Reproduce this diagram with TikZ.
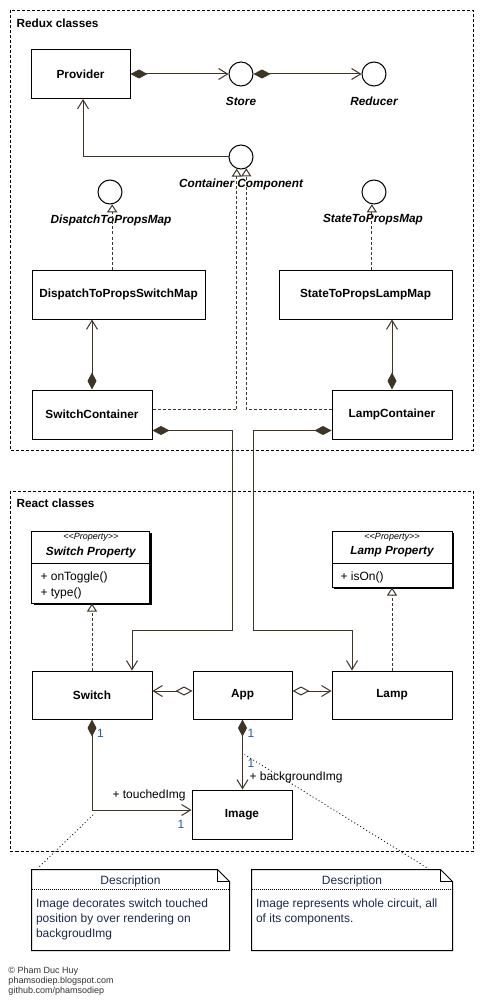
\documentclass[tikz,border=0pt]{standalone}
\usepackage{fontspec}
\setmainfont{Liberation Sans}
\usetikzlibrary{arrows.meta,positioning,shadows}

\definecolor{linkcol}{HTML}{3F3526}
\definecolor{multcol}{HTML}{2A5A9A}
\definecolor{notecol}{HTML}{1C2A4A}

\begin{document}
\begin{tikzpicture}[x=1pt, y=-1pt, line width=1pt,
    cls/.style={draw, fill=white, inner sep=0pt, minimum height=49pt,
      font=\fontsize{11.8}{14}\selectfont\bfseries},
    iface/.style={draw, circle, fill=white, inner sep=0pt, minimum size=24pt},
    ilabel/.style={inner sep=0pt, font=\fontsize{11.8}{14}\selectfont\bfseries\itshape},
    pkglabel/.style={anchor=west, inner sep=0pt, font=\fontsize{11.8}{14}\selectfont\bfseries},
    stereo/.style={inner sep=0pt, font=\fontsize{9}{10}\selectfont\itshape},
    prop/.style={draw, fill=white, inner sep=0pt, minimum width=118pt,
      drop shadow={shadow xshift=2pt, shadow yshift=-2pt, fill=black, opacity=1}},
    txt/.style={inner sep=0pt, font=\fontsize{12}{16}\selectfont},
    mult/.style={inner sep=0pt, text=multcol, font=\fontsize{12}{14}\selectfont},
    note/.style={inner sep=0pt, minimum height=80pt},
    notetxt/.style={inner sep=0pt, text=notecol, font=\fontsize{12}{14.7}\selectfont},
    foot/.style={anchor=west, inner sep=0pt, text=black!80, font=\fontsize{9}{10}\selectfont},
    pkg/.style={dash pattern=on 3pt off 2pt},
    comp/.style={draw=linkcol, {Diamond[length=17pt,width=9pt,fill=linkcol]}-{Straight Barb[length=9pt,width=11pt]}},
    aggr/.style={draw=linkcol, {Diamond[length=17pt,width=9pt,fill=white]}-{Straight Barb[length=9pt,width=11pt]}},
    nav/.style={draw=linkcol, -{Straight Barb[length=9pt,width=11pt]}},
    real/.style={draw=linkcol, dash pattern=on 3pt off 2pt, -{Triangle[length=8pt,width=10pt,fill=white]}},
    attach/.style={line width=0.8pt, dash pattern=on 1pt off 2.5pt},
  ]
    \fill[white] (0, 0) rectangle (483, 1000);
    \useasboundingbox (0, 0) rectangle (483, 1000);

    % Redux classes
    \draw[pkg] (10.5, 10.5) rectangle (473, 450);
    \node[pkglabel] at (16, 23) (reduxlbl) {Redux classes};

    \node[cls, minimum width=99pt] at (80.5, 74) (prov) {Provider};
    \node[iface] at (241, 74) (store) {};
    \node[ilabel] at (241, 101) (storelbl) {Store};
    \node[iface] at (374, 74) (red) {};
    \node[ilabel] at (374, 101) (redlbl) {Reducer};
    \node[iface] at (241, 157) (cc) {};
    \node[ilabel] at (241, 184) (cclbl) {Container Component};
    \node[iface] at (110, 192) (dmap) {};
    \node[ilabel] at (111, 220) (dmaplbl) {DispatchToPropsMap};
    \node[iface] at (374, 192) (smap) {};
    \node[ilabel] at (373, 220) (smaplbl) {StateToPropsMap};
    \node[cls, minimum width=173pt] at (118.5, 294.5) (dsm) {DispatchToPropsSwitchMap};
    \node[cls, minimum width=173pt] at (365.5, 294.5) (slm) {StateToPropsLampMap};
    \node[cls, minimum width=120pt] at (92, 414.5) (sc) {SwitchContainer};
    \node[cls, minimum width=120pt] at (392, 414.5) (lc) {LampContainer};

    \draw[comp] (prov.east) -- (store.west);
    \draw[comp] (store.east) -- (red.west);
    \draw[nav] (cc.west) -| ([xshift=2.5pt]prov.south);
    \draw[real] (dmap.-80 |- dsm.north) -- (dmap.-80);
    \draw[real] (smap.-100 |- slm.north) -- (smap.-100);
    \draw[comp] (sc.north) -- (sc.north |- dsm.south);
    \draw[comp] (lc.north) -- (lc.north |- slm.south);
    \draw[real] ([yshift=5pt]sc.east) -| (cc.-110);
    \draw[real] ([yshift=5pt]lc.west) -| (cc.-65);

    % React classes
    \draw[pkg] (10.5, 491) rectangle (473, 851);
    \node[pkglabel] at (16, 503) (reactlbl) {React classes};

    \node[prop, minimum height=32pt] at (90.8, 547) (swph) {};
    \node[prop, minimum height=40pt] at (90.8, 583) (swpb) {};
    \node[stereo] at (90.8, 537) (swpst) {<{}<Property>{}>};
    \node[ilabel] at (90.8, 552) (swpname) {Switch Property};
    \node[txt, anchor=north west, align=left] at (40, 571.5) (swpops) {+ onToggle()\\+ type()};

    \node[prop, minimum width=120pt, minimum height=32pt] at (392, 547) (lmph) {};
    \node[prop, minimum width=120pt, minimum height=24pt] at (392, 575) (lmpb) {};
    \node[stereo] at (392, 537) (lmpst) {<{}<Property>{}>};
    \node[ilabel] at (392, 552) (lmpname) {Lamp Property};
    \node[txt, anchor=north west, align=left] at (340, 571.5) (lmpops) {+ isOn()};

    \node[cls, minimum width=120pt, minimum height=48pt] at (92, 695) (sw) {Switch};
    \node[cls, minimum width=99pt, minimum height=48pt] at (242.5, 695) (app) {App};
    \node[cls, minimum width=120pt, minimum height=48pt] at (392, 695) (lamp) {Lamp};
    \node[cls, minimum width=100pt] at (242, 814.5) (img) {Image};

    \coordinate (swbend) at (232, 630);
    \coordinate (lpbend) at (253.5, 630);
    \draw[comp] ([yshift=-16pt]sc.east) -| (swbend) -| ([xshift=40pt]sw.north);
    \draw[comp] ([yshift=-16pt]lc.west) -| (lpbend) -| ([xshift=-40pt]lamp.north);
    \draw[real] (sw.north) -- (sw.north |- swpb.south);
    \draw[real] (lamp.north) -- (lamp.north |- lmpb.south);
    \draw[aggr] ([yshift=4pt]app.west) -- ([yshift=4pt]sw.east);
    \draw[aggr] ([yshift=4pt]app.east) -- ([yshift=4pt]lamp.west);
    \draw[comp] (sw.south) |- ([yshift=4.5pt]img.west) coordinate[pos=0.5] (imgbend);
    \draw[comp] (app.south) -- (app.south |- img.north) coordinate[pos=0.5] (appimg);

    \node[mult] at (100.5, 733) (swmult) {1};
    \node[mult] at (251, 733) (appmult) {1};
    \node[mult] at (251, 763) (bgmult) {1};
    \node[txt, anchor=west] at (249, 777) (bgrole) {+ backgroundImg};
    \node[txt, anchor=west] at (112, 795) (tchrole) {+ touchedImg};
    \node[mult] at (181, 824) (tchmult) {1};

    % notes
    \node[note, minimum width=197pt] at (130.5, 910) (note1) {};
    \draw (note1.south west) |- ([xshift=-12pt]note1.north east)
      -- ([yshift=-12pt]note1.north east) |- (note1.south west) -- cycle;
    \draw ([xshift=-12pt]note1.north east) |- ([yshift=-12pt]note1.north east);
    \draw[dash pattern=on 1pt off 1pt] ([yshift=-20pt]note1.north west) -- ([yshift=-20pt]note1.north east);
    \node[notetxt] at (130.5, 881) (note1ttl) {Description};
    \node[notetxt, anchor=north west, align=left] at (35.5, 898.5) (note1txt)
      {Image decorates switch touched\\position by over rendering on\\backgroudImg};

    \node[note, minimum width=200pt] at (352, 910) (note2) {};
    \draw (note2.south west) |- ([xshift=-12pt]note2.north east)
      -- ([yshift=-12pt]note2.north east) |- (note2.south west) -- cycle;
    \draw ([xshift=-12pt]note2.north east) |- ([yshift=-12pt]note2.north east);
    \draw[dash pattern=on 1pt off 1pt] ([yshift=-20pt]note2.north west) -- ([yshift=-20pt]note2.north east);
    \node[notetxt] at (352, 881) (note2ttl) {Description};
    \node[notetxt, anchor=north west, align=left] at (255.5, 898.5) (note2txt)
      {Image represents whole circuit, all\\of its components.};

    \draw[attach] ([xshift=8pt, yshift=3pt]note1.north west) -- ([xshift=3pt, yshift=-3pt]imgbend);
    \draw[attach] ([xshift=-26pt, yshift=2pt]note2.north east) -- ([xshift=2pt]appimg);

    % footer
    \node[foot] at (8, 971) (copyr) {© Pham Duc Huy};
    \node[foot] at (8, 981) (blog) {phamsodiep.blogspot.com};
    \node[foot] at (8, 991) (gh) {github.com/phamsodiep};
\end{tikzpicture}
\end{document}
